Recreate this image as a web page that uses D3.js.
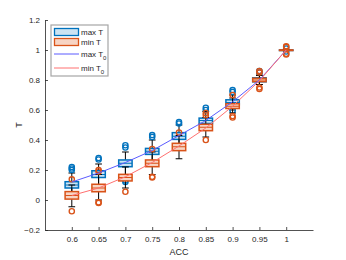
<!DOCTYPE html>
<html>
<head>
<meta charset="utf-8">
<script src="https://cdn.jsdelivr.net/npm/d3@7"></script>
<style>
  body { margin: 0; background: #fff; }
  text { font-family: "Liberation Sans", Arial, sans-serif; }
</style>
</head>
<body>
<svg id="chart" width="346" height="260"></svg>
<script>
// ACC levels (x categories)
const acc = [0.6, 0.65, 0.7, 0.75, 0.8, 0.85, 0.9, 0.95, 1];
const yTicks = [-0.2, 0, 0.2, 0.4, 0.6, 0.8, 1, 1.2];

// box stats: [whisker low, q1, median, q3, whisker high]
const maxT = [
  [0.02, 0.08, 0.10, 0.122, 0.18],
  [0.09, 0.15, 0.17, 0.195, 0.24],
  [0.17, 0.222, 0.245, 0.267, 0.32],
  [0.26, 0.304, 0.325, 0.344, 0.40],
  [0.36, 0.404, 0.425, 0.449, 0.50],
  [0.47, 0.51, 0.53, 0.546, 0.59],
  [0.60, 0.635, 0.65, 0.668, 0.70],
  [0.77, 0.788, 0.80, 0.815, 0.84],
  [1, 1, 1, 1, 1]
];
const minT = [
  [-0.045, 0.006, 0.03, 0.056, 0.10],
  [0.0, 0.055, 0.08, 0.105, 0.17],
  [0.08, 0.127, 0.15, 0.171, 0.22],
  [0.17, 0.222, 0.245, 0.267, 0.32],
  [0.275, 0.329, 0.355, 0.378, 0.43],
  [0.42, 0.462, 0.485, 0.505, 0.55],
  [0.58, 0.61, 0.625, 0.642, 0.68],
  [0.77, 0.789, 0.80, 0.812, 0.83],
  [1, 1, 1, 1, 1]
];
const maxOut = [
  [0.20, 0.21, 0.22],
  [0.27, 0.28],
  [0.12, 0.13, 0.35, 0.365],
  [0.42, 0.433],
  [0.51, 0.52],
  [0.60, 0.615],
  [0.595, 0.72, 0.733],
  [0.85, 0.86],
  [0.99, 1.01]
];
const minOut = [
  [0.138, -0.075],
  [0.19, 0.20, -0.015, -0.02],
  [0.055],
  [0.34, 0.155, 0.15],
  [0.45],
  [0.565, 0.58, 0.40],
  [0.55, 0.56, 0.70],
  [0.86, 0.85, 0.74, 0.75],
  [0.97, 0.975, 1.02, 1.025]
];
// reference curves
const maxT0 = [0.12, 0.18, 0.25, 0.33, 0.43, 0.53, 0.655, 0.80, 1.0];
const minT0 = [0.03, 0.08, 0.155, 0.25, 0.36, 0.48, 0.625, 0.795, 1.0];

const BLUE = "#0072BD", BLUE_FILL = "#cce3f2";
const ORANGE = "#D95319", ORANGE_FILL = "#f7d4c4";
const LINE_BLUE = "#5b5bff", LINE_RED = "#ff7070";
const AXIS = "#262626";

const svg = d3.select("#chart");
const x = d3.scaleLinear().domain([0, 10]).range([45, 313]);
const y = d3.scaleLinear().domain([-0.2, 1.2]).range([230, 20]);
const boxW = x(0.5) - x(0);
const capW = boxW / 2;

function drawBoxes(stats, outs, stroke, fill) {
  const g = svg.append("g");
  stats.forEach((s, i) => {
    const cx = x(i + 1);
    const [lo, q1, med, q3, hi] = s;
    // whiskers
    g.append("line").attr("x1", cx).attr("x2", cx).attr("y1", y(q3)).attr("y2", y(hi))
      .attr("stroke", "#000").attr("stroke-width", 1);
    g.append("line").attr("x1", cx).attr("x2", cx).attr("y1", y(q1)).attr("y2", y(lo))
      .attr("stroke", "#000").attr("stroke-width", 1);
    [lo, hi].forEach(v => {
      g.append("line").attr("x1", cx - capW / 2).attr("x2", cx + capW / 2)
        .attr("y1", y(v)).attr("y2", y(v)).attr("stroke", "#000").attr("stroke-width", 1);
    });
    // box
    g.append("rect")
      .attr("x", cx - boxW / 2).attr("width", boxW)
      .attr("y", y(q3)).attr("height", Math.max(y(q1) - y(q3), 0.5))
      .attr("fill", fill).attr("stroke", stroke).attr("stroke-width", 1.5);
    g.append("line").attr("x1", cx - boxW / 2).attr("x2", cx + boxW / 2)
      .attr("y1", y(med)).attr("y2", y(med)).attr("stroke", stroke).attr("stroke-width", 1);
    // outliers
    outs[i].forEach(v => {
      g.append("circle").attr("cx", cx).attr("cy", y(v)).attr("r", 2.6)
        .attr("fill", "none").attr("stroke", stroke).attr("stroke-width", 1.4);
    });
  });
}

drawBoxes(maxT, maxOut, BLUE, BLUE_FILL);
drawBoxes(minT, minOut, ORANGE, ORANGE_FILL);

const line = d3.line().x((d, i) => x(i + 1)).y(d => y(d));
svg.append("path").datum(maxT0).attr("d", line)
  .attr("fill", "none").attr("stroke", LINE_BLUE).attr("stroke-width", 1);
svg.append("path").datum(minT0).attr("d", line)
  .attr("fill", "none").attr("stroke", LINE_RED).attr("stroke-width", 1);

// axes
const xAxis = d3.axisBottom(x)
  .tickValues(acc.map((_, i) => i + 1))
  .tickFormat((d, i) => acc[i])
  .tickSizeInner(-3).tickSizeOuter(0).tickPadding(6);
const gx = svg.append("g").attr("transform", "translate(0,230)").call(xAxis);
const yAxis = d3.axisLeft(y).tickValues(yTicks).tickFormat(d3.format("~g"))
  .tickSizeInner(-3).tickSizeOuter(0).tickPadding(5);
const gy = svg.append("g").attr("transform", "translate(45,0)").call(yAxis);
[gx, gy].forEach(g => {
  g.select(".domain").attr("stroke", AXIS).attr("stroke-width", 0.8);
  g.selectAll(".tick line").attr("stroke", AXIS).attr("stroke-width", 0.8);
  g.selectAll(".tick text").attr("fill", AXIS).attr("font-size", 8)
    .attr("font-family", "Liberation Sans, Arial, sans-serif");
});

svg.append("text").attr("x", x(5)).attr("y", 255).attr("text-anchor", "middle")
  .attr("font-size", 9).attr("fill", AXIS).text("ACC");
svg.append("text").attr("transform", "translate(22,125) rotate(-90)")
  .attr("text-anchor", "middle").attr("font-size", 9).attr("fill", AXIS).text("T");

// legend
const lg = svg.append("g").attr("transform", "translate(51,25)");
lg.append("rect").attr("width", 57).attr("height", 51)
  .attr("fill", "#fff").attr("stroke", "#a6a6a6").attr("stroke-width", 1.2);
const legendItems = [
  { label: "max T", sub: "", type: "box", stroke: BLUE, fill: BLUE_FILL, y: 7 },
  { label: "min T", sub: "", type: "box", stroke: ORANGE, fill: ORANGE_FILL, y: 17 },
  { label: "max T", sub: "0", type: "line", stroke: LINE_BLUE, y: 29 },
  { label: "min T", sub: "0", type: "line", stroke: LINE_RED, y: 43 }
];
legendItems.forEach(d => {
  if (d.type === "box") {
    lg.append("rect").attr("x", 3.5).attr("y", d.y - 3.5).attr("width", 24).attr("height", 7)
      .attr("fill", d.fill).attr("stroke", d.stroke).attr("stroke-width", 1.3);
  } else {
    lg.append("line").attr("x1", 3).attr("x2", 28).attr("y1", d.y).attr("y2", d.y)
      .attr("stroke", d.stroke).attr("stroke-width", 1);
  }
  const t = lg.append("text").attr("x", 30).attr("y", d.y + 3)
    .attr("font-size", 8).attr("fill", AXIS).text(d.label);
  if (d.sub) {
    t.append("tspan").attr("dy", 3).attr("font-size", 6).text(d.sub);
  }
});
</script>
</body>
</html>
